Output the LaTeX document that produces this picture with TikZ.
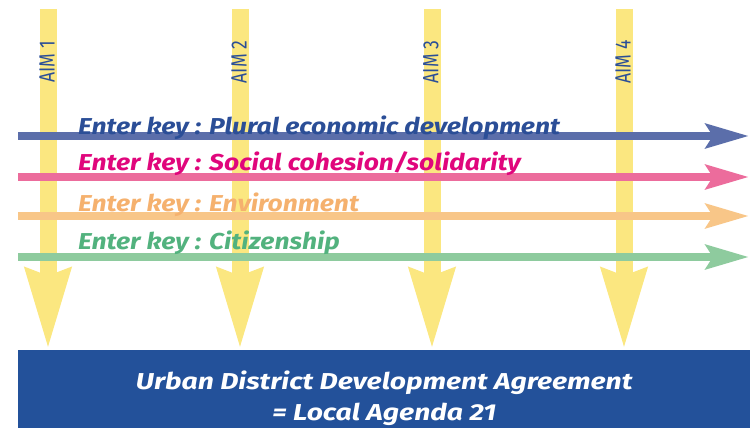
\documentclass[tikz,border=0pt]{standalone}
\usepackage{fontspec}
\setmainfont{Fira Sans}
\usetikzlibrary{arrows.meta}
\definecolor{aimyellow}{HTML}{FBE780}
\definecolor{boxblue}{HTML}{23519A}
\definecolor{bluetext}{HTML}{2B4E97}
\definecolor{blueline}{HTML}{5B6EAA}
\definecolor{pinktext}{HTML}{E0067C}
\definecolor{pinkline}{HTML}{EC6C9C}
\definecolor{orangetext}{HTML}{F5B16E}
\definecolor{orangeline}{HTML}{F8C688}
\definecolor{greentext}{HTML}{52B27E}
\definecolor{greenline}{HTML}{8ECB9E}
\newcommand{\keywide}[1]{\scalebox{1.15}[1]{#1}}
\newcommand{\agrwide}[1]{\scalebox{1.23}[1]{#1}}
\begin{document}
\begin{tikzpicture}[x=1pt,y=-1pt,
  aim/.style={line width=17pt,color=aimyellow,-{Stealth[length=80pt,width=43pt,inset=6pt]}},
  keyline/.style={line width=8.5pt,-{Stealth[length=43pt,width=24pt,inset=7pt]}},
  keytext/.style={anchor=base west,inner sep=0pt,font=\fontsize{23}{27}\selectfont\bfseries\itshape},
  aimtext/.style={rotate=90,inner sep=0pt,text=bluetext,font=\fontsize{22}{26}\selectfont},
  agrtext/.style={anchor=base,inner sep=0pt,text=white,font=\fontsize{23}{27}\selectfont\bfseries\itshape}]
\useasboundingbox (0,0) rectangle (750,428);
% the agreement box
\node[fill=boxblue,minimum width=732pt,minimum height=78pt,inner sep=0pt,anchor=north west] (agreement) at (18,350) {};
% the four aims
\foreach \x/\n in {48/1,240/2,432/3,624/4} {
  \coordinate (aimtop\n) at (\x,9);
  \draw[aim] (aimtop\n) -- (aimtop\n |- agreement.north);
  \node[aimtext] (aim\n) at (\x-1,62) {\scalebox{0.8}[1]{AIM \n}};
}
% the enter keys
\coordinate (econstart) at (18,136); \coordinate (econend) at (749,136);
\coordinate (socstart) at (18,177); \coordinate (socend) at (749,177);
\coordinate (envstart) at (18,216); \coordinate (envend) at (749,216);
\coordinate (citstart) at (18,257); \coordinate (citend) at (749,257);
\draw[keyline,color=blueline] (econstart) -- (econend);
\draw[keyline,color=pinkline] (socstart) -- (socend);
\draw[keyline,color=orangeline] (envstart) -- (envend);
\draw[keyline,color=greenline] (citstart) -- (citend);
\node[keytext,text=bluetext] (econ) at (78,134) {\keywide{Enter key : Plural economic development}};
\node[keytext,text=pinktext] (soc) at (78,170) {\keywide{Enter key : Social cohesion/solidarity}};
\node[keytext,text=orangetext] (env) at (78,211) {\keywide{Enter key : Environment}};
\node[keytext,text=greentext] (cit) at (78,249) {\keywide{Enter key : Citizenship}};
% text of the box
\node[agrtext] (agr1) at (agreement.center |- 0,389) {\agrwide{Urban District Development Agreement}};
\node[agrtext] (agr2) at (agreement.center |- 0,420) {\agrwide{= Local Agenda 21}};
\end{tikzpicture}
\end{document}
